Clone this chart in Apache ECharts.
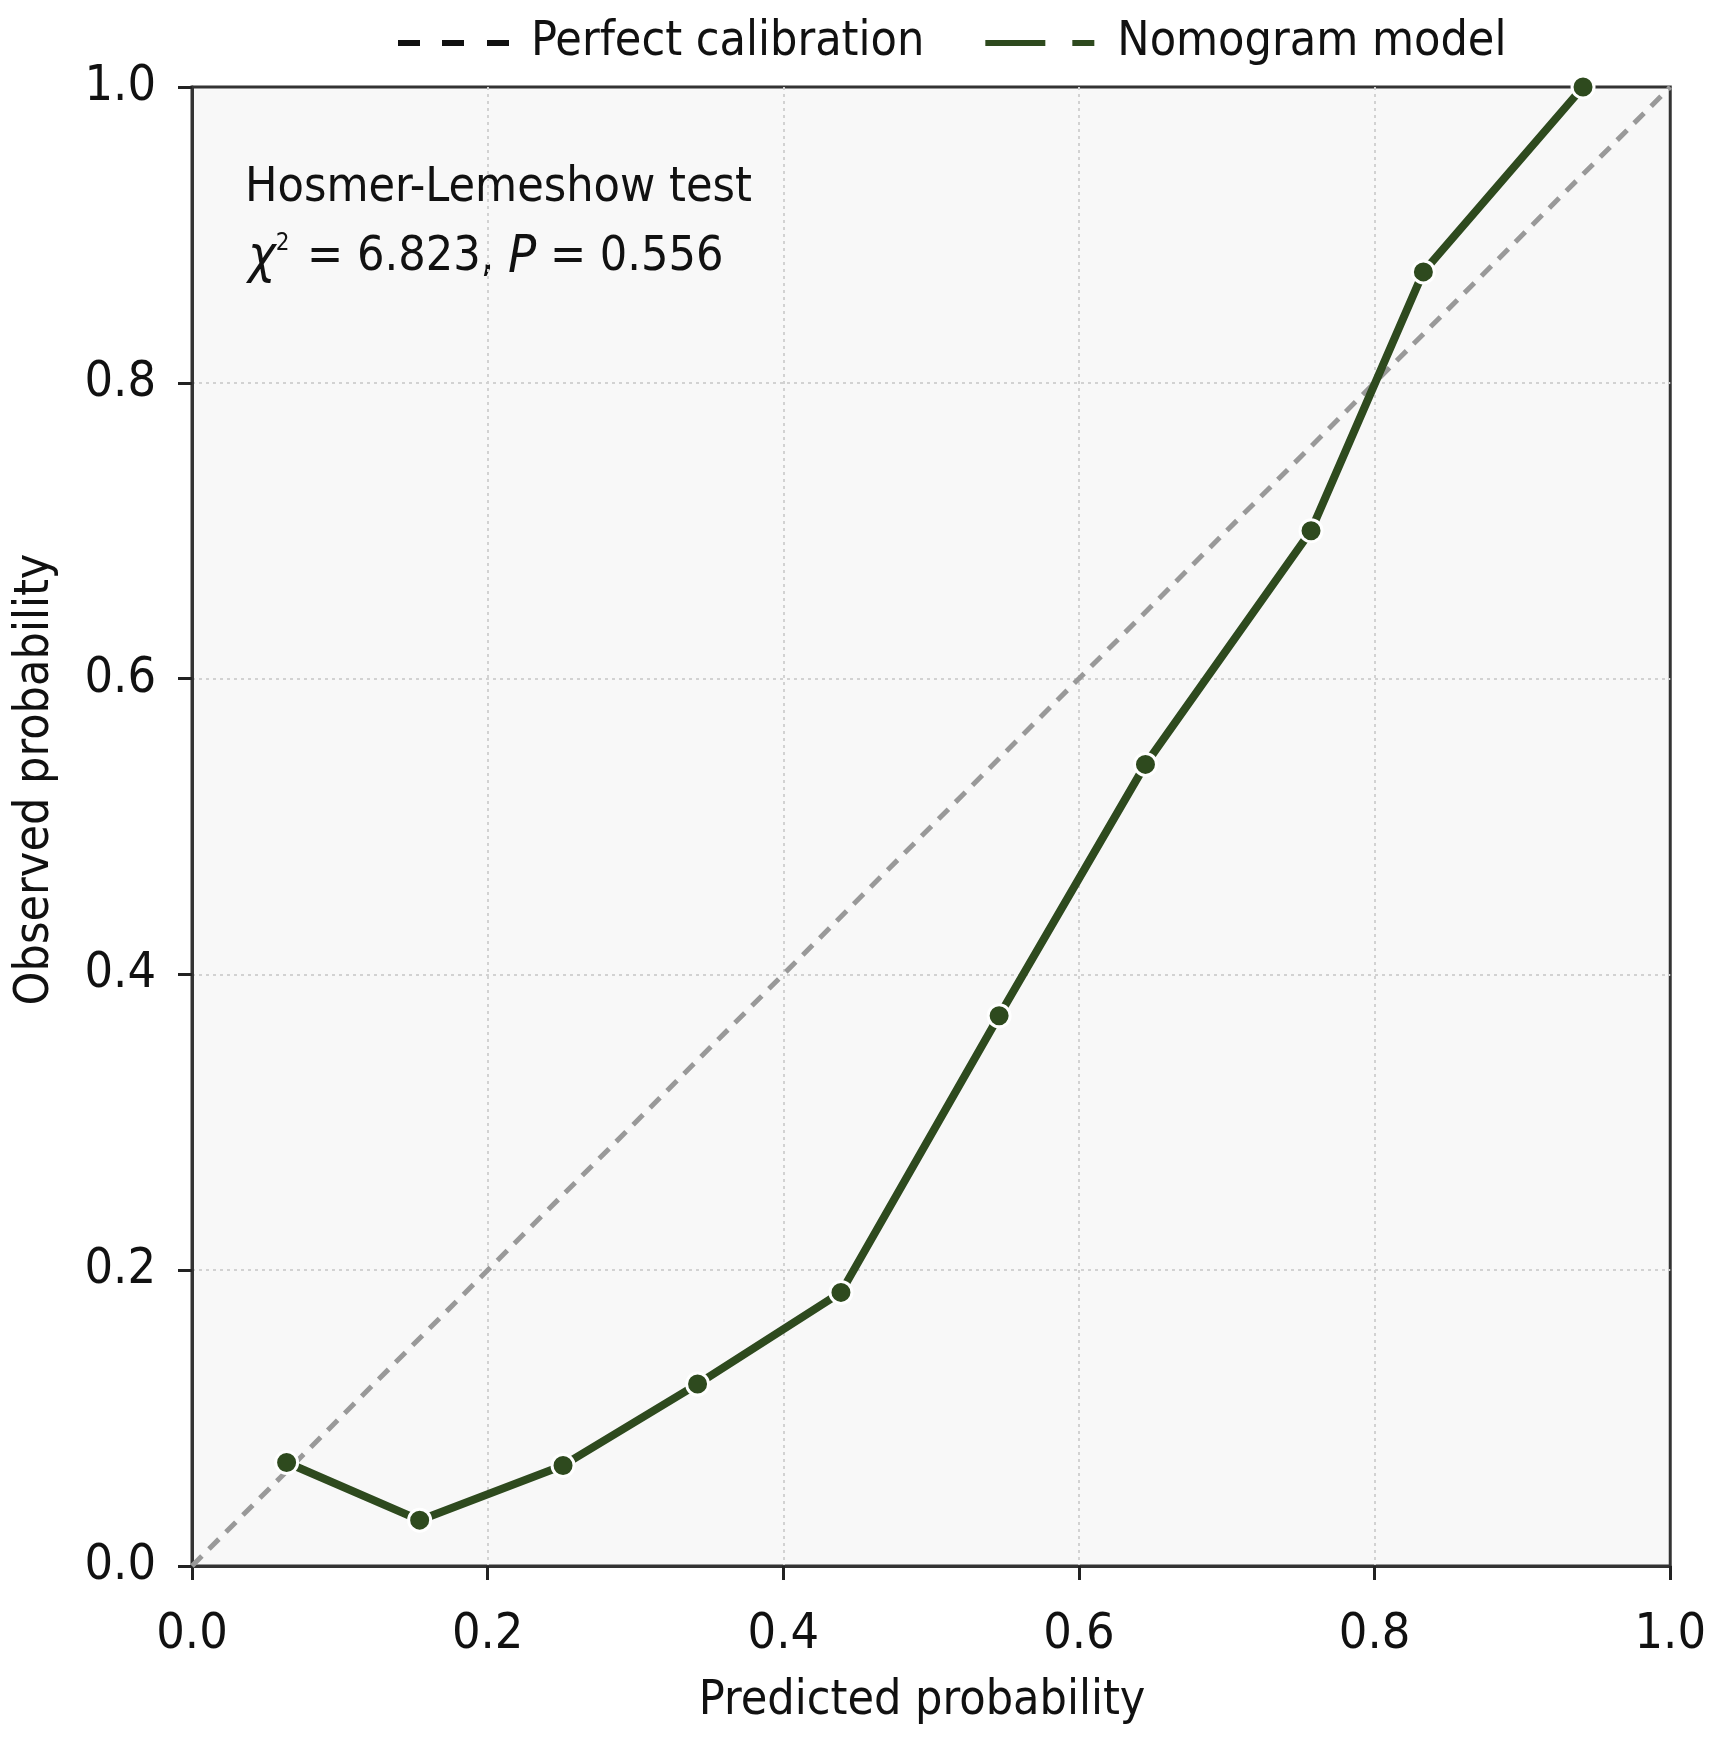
<!DOCTYPE html>
<html>
<head>
<meta charset="utf-8">
<script src="https://cdn.jsdelivr.net/npm/echarts@6/dist/echarts.min.js"></script>
<style>
  html, body { margin: 0; padding: 0; background: #fff; }
  #main { width: 1709px; height: 1742px; }
</style>
</head>
<body>
<div id="main"></div>
<script>
// calibration data
var predicted = [0.064, 0.154, 0.251, 0.342, 0.439, 0.546, 0.645, 0.757, 0.833, 0.941];
var observed  = [0.070, 0.031, 0.068, 0.123, 0.185, 0.372, 0.542, 0.700, 0.875, 1.000];
var diagonal = [[0, 0], [1, 1]];

var FONT = "'DejaVu Sans Condensed', 'DejaVu Sans', sans-serif";
var GREEN = '#2e4a1e';

var myChart = echarts.init(document.getElementById('main'));

var modelData = [];
for (var i = 0; i < predicted.length; i++) {
    modelData.push([predicted[i], observed[i]]);
}

var axisCommon = {
    type: 'value',
    min: 0,
    max: 1,
    interval: 0.2,
    nameLocation: 'middle',
    axisLine: { show: true, onZero: false, lineStyle: { color: '#333', width: 3 } },
    axisTick: { show: true, length: 14, lineStyle: { color: '#222', width: 3 } },
    axisLabel: {
        fontFamily: FONT, fontSize: 50, color: '#111',
        formatter: function (v) { return v.toFixed(1); }
    },
    splitLine: {
        show: true, showMinLine: false, showMaxLine: false,
        lineStyle: { color: '#d2d2d2', width: 2, type: [3, 4] }
    }
};

var option = {
    backgroundColor: '#ffffff',
    animation: false,
    grid: {
        left: 192,
        right: 37,
        top: 87,
        bottom: 176,
        show: true,
        backgroundColor: '#f8f8f8',
        borderColor: '#333',
        borderWidth: 3
    },
    legend: {
        top: 14,
        left: 393,
        itemGap: 61,
        itemWidth: 111,
        itemHeight: 6,
        textStyle: { fontFamily: FONT, fontSize: 48, color: '#111', padding: [0, 0, 0, 17] },
        data: [
            {
                name: 'Perfect calibration',
                icon: 'path://M0,0h22v6h-22z M44,0h22v6h-22z M89,0h22v6h-22z',
                itemStyle: { color: '#111', borderWidth: 0 }
            },
            {
                name: 'Nomogram model',
                icon: 'path://M0,0h60v6h-60z M87,0h22v6h-22z',
                itemStyle: { color: GREEN, borderWidth: 0 }
            }
        ]
    },
    xAxis: Object.assign({}, axisCommon, {
        name: 'Predicted probability',
        nameGap: 112,
        nameTextStyle: { fontFamily: FONT, fontSize: 48, color: '#111', padding: [0, 18, 0, 0] },
        axisLabel: Object.assign({}, axisCommon.axisLabel, { margin: 44 })
    }),
    yAxis: Object.assign({}, axisCommon, {
        name: 'Observed probability',
        nameGap: 132,
        nameTextStyle: { fontFamily: FONT, fontSize: 48, color: '#111', padding: [0, 0, 0, 94] },
        axisLabel: Object.assign({}, axisCommon.axisLabel, { margin: 36 })
    }),
    graphic: [
        {
            type: 'text',
            left: 245,
            top: 165,
            style: {
                text: 'Hosmer-Lemeshow test',
                fontFamily: FONT,
                fontSize: 48,
                fill: '#111'
            }
        },
        {
            type: 'text',
            left: 248,
            top: 232,
            style: {
                text: '{it|χ}{sup|2}{n| = 6.823, }{it|P}{n| = 0.556}',
                fontFamily: FONT,
                fontSize: 48,
                fill: '#111',
                rich: {
                    it: { fontFamily: FONT, fontSize: 52, fontStyle: 'italic', fill: '#111' },
                    sup: { fontFamily: FONT, fontSize: 24, fill: '#111', verticalAlign: 'top', padding: [0, 4, 26, 0] },
                    n: { fontFamily: FONT, fontSize: 48, fill: '#111' }
                }
            }
        }
    ],
    series: [
        {
            name: 'Perfect calibration',
            type: 'line',
            data: diagonal,
            symbol: 'none',
            silent: true,
            lineStyle: { color: '#999', width: 5, type: [14, 10] },
            z: 2
        },
        {
            name: 'Nomogram model',
            type: 'line',
            data: modelData,
            symbol: 'circle',
            symbolSize: 22,
            itemStyle: { color: GREEN, borderColor: '#fff', borderWidth: 3 },
            lineStyle: { color: GREEN, width: 8 },
            z: 3
        }
    ]
};

myChart.setOption(option);
</script>
</body>
</html>
